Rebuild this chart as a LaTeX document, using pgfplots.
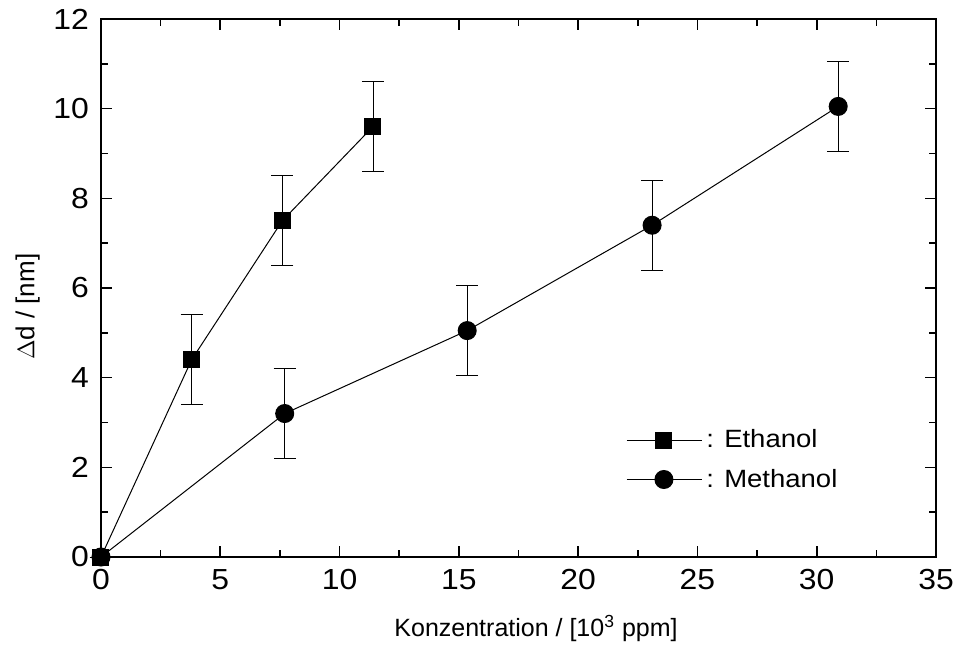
\documentclass[border=0pt]{standalone}
\usepackage{fontspec}
\setmainfont{Liberation Sans}
\newfontfamily\widefamily{Liberation Sans}[FakeStretch=1.1]
\usepackage{pgfplots}
\pgfplotsset{compat=1.18}
\newcommand\tickfont{\widefamily\fontsize{14.5}{16}\selectfont}
\newcommand\legfont{\widefamily\fontsize{12.5}{14}\selectfont}
\newcommand\xlabfont{\fontsize{12.5}{14}\selectfont}
\newcommand\ylabfont{\fontsize{13}{15}\selectfont}
\begin{document}
\begin{tikzpicture}
\begin{axis}[
  scale only axis,
  width=417.5pt, height=269pt,
  xmin=0, xmax=35, ymin=0, ymax=12,
  xtick={0,5,...,35}, ytick={0,2,...,12},
  minor x tick num=1, minor y tick num=1,
  tick align=inside,
  major tick length=5.5pt, minor tick length=3.5pt,
  every tick/.style={black, line width=0.8pt},
  axis line style={line width=1pt},
  every tick label/.append style={font=\tickfont},
  xticklabel style={yshift=-2.5pt},
  yticklabel style={xshift=-2.5pt},
  /pgf/number format/assume math mode=true,
  xlabel={Konzentration / [10\textsuperscript{3} ppm]},
  ylabel={$\Delta$d / [nm]},
  xlabel style={font=\xlabfont, at={(ticklabel cs:0.521)}, yshift=-6pt},
  ylabel style={font=\ylabfont, at={(ticklabel cs:0.465)}, yshift=0pt},
  clip=false,
  legend style={draw=none, fill=none, at={(0.6216,0.252)}, anchor=north west,
    font=\legfont, row sep=5pt, nodes={font=\legfont}},
  legend cell align=left,
  legend image code/.code={
    \draw[black, line width=0.4pt] (0pt,0pt) -- (37.5pt,0pt);
    \draw[#1, mark repeat=2, mark phase=2] plot coordinates {(0pt,0pt) (18.5pt,0pt) (37.5pt,0pt)};
  },
]
\addplot[black, line width=0.5pt, mark=square*, mark size=4pt, mark options={solid},
  error bars/.cd, y dir=both, y explicit, error mark options={rotate=90, mark size=5.5pt, line width=0.5pt}]
  coordinates {
  (0,0) +- (0,0)
  (3.8,4.4) +- (0,1)
  (7.6,7.5) +- (0,1)
  (11.4,9.6) +- (0,1)
};
\addlegendentry{: Ethanol}
\addplot[black, line width=0.5pt, mark=*, mark size=4.5pt, mark options={solid},
  error bars/.cd, y dir=both, y explicit, error mark options={rotate=90, mark size=5.5pt, line width=0.5pt}]
  coordinates {
  (0,0) +- (0,0)
  (7.7,3.2) +- (0,1)
  (15.35,5.05) +- (0,1)
  (23.1,7.4) +- (0,1)
  (30.9,10.05) +- (0,1)
};
\addlegendentry{: Methanol}
\end{axis}
\pgfresetboundingbox
\useasboundingbox ([xshift=-50.5pt,yshift=-51pt]current axis.south west) rectangle ([xshift=8.5pt,yshift=9.5pt]current axis.north east);
\end{tikzpicture}
\end{document}
